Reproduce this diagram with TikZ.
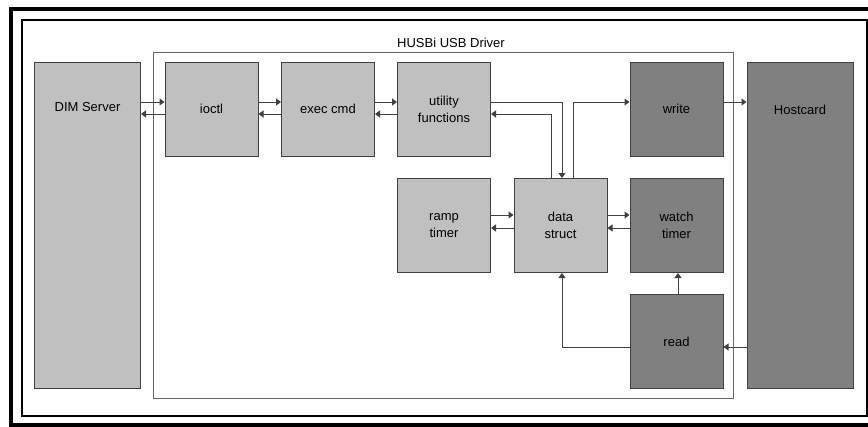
\documentclass[tikz,border=0pt]{standalone}
\usepackage{fontspec}
\setmainfont{Liberation Sans}
\usetikzlibrary{arrows.meta}

\definecolor{boxlight}{HTML}{C0C0C0}
\definecolor{boxdark}{HTML}{808080}
\definecolor{edgegray}{HTML}{404040}

\begin{document}
\begin{tikzpicture}[x=1pt, y=-1pt,
		every node/.style={text centered, font=\fontsize{13}{17}\selectfont},
		block/.style={rectangle, draw=edgegray, line width=1pt, minimum width=93pt, minimum height=94pt, align=center},
		lightbox/.style={block, fill=boxlight},
		darkbox/.style={block, fill=boxdark},
		tallbox/.style={rectangle, draw=edgegray, line width=1pt, minimum width=106pt, minimum height=326pt},
		link/.style={draw=black!75, line width=1pt, -{Triangle[length=5pt, width=7pt]}}]
	\useasboundingbox (0,0) rectangle (868,426);

	% double frame round the page
	\draw[line width=4pt] (11,9) rectangle (872,425);
	\draw[line width=2pt] (22,20) rectangle (866.5,415.5);

	% driver frame
	\draw[draw=black!60, line width=1pt] (153,52) rectangle (733,398);
	\node (title) at (451,43) {HUSBi USB Driver};

	% outside blocks
	\node[tallbox, fill=boxlight, label={[anchor=center, yshift=-46pt]north:DIM Server}] (dim) at (87.5,225) {};
	\node[tallbox, fill=boxdark, label={[anchor=center, yshift=-48pt]north:Hostcard}] (host) at (800,225) {};

	% driver blocks
	\node[lightbox] (ioctl) at (211.5,109) {ioctl};
	\node[lightbox] (exec) at (328,109) {exec cmd};
	\node[lightbox] (util) at (444,109) {utility\\functions};
	\node[darkbox] (write) at (676.5,109) {write};
	\node[lightbox] (ramp) at (444,225.5) {ramp\\timer};
	\node[lightbox] (data) at (560.5,225.5) {data\\struct};
	\node[darkbox] (watch) at (676.5,225.5) {watch\\timer};
	\node[darkbox] (read) at (676.5,341.5) {read};

	% heights of the paired links
	\coordinate (hi) at (0,102);
	\coordinate (lo) at (0,114);
	\coordinate (hitwo) at (0,215);
	\coordinate (lotwo) at (0,228);
	\coordinate (rd) at (0,347);

	\draw[link] (dim.east |- hi) -- (ioctl.west |- hi);
	\draw[link] (ioctl.west |- lo) -- (dim.east |- lo);
	\draw[link] (ioctl.east |- hi) -- (exec.west |- hi);
	\draw[link] (exec.west |- lo) -- (ioctl.east |- lo);
	\draw[link] (exec.east |- hi) -- (util.west |- hi);
	\draw[link] (util.west |- lo) -- (exec.east |- lo);

	\draw[link] (util.east |- hi) -| ([xshift=1.5pt]data.north);
	\draw[link] ([xshift=-9.5pt]data.north) |- (util.east |- lo);
	\draw[link] ([xshift=12.5pt]data.north) |- (write.west |- hi);
	\draw[link] (write.east |- hi) -- (host.west |- hi);

	\draw[link] (ramp.east |- hitwo) -- (data.west |- hitwo);
	\draw[link] (data.west |- lotwo) -- (ramp.east |- lotwo);
	\draw[link] (data.east |- hitwo) -- (watch.west |- hitwo);
	\draw[link] (watch.west |- lotwo) -- (data.east |- lotwo);

	\draw[link] ([xshift=1.5pt]read.north) -- ([xshift=1.5pt]watch.south);
	\draw[link] (read.west |- rd) -| ([xshift=1.5pt]data.south);
	\draw[link] (host.west |- rd) -- (read.east |- rd);
\end{tikzpicture}
\end{document}
